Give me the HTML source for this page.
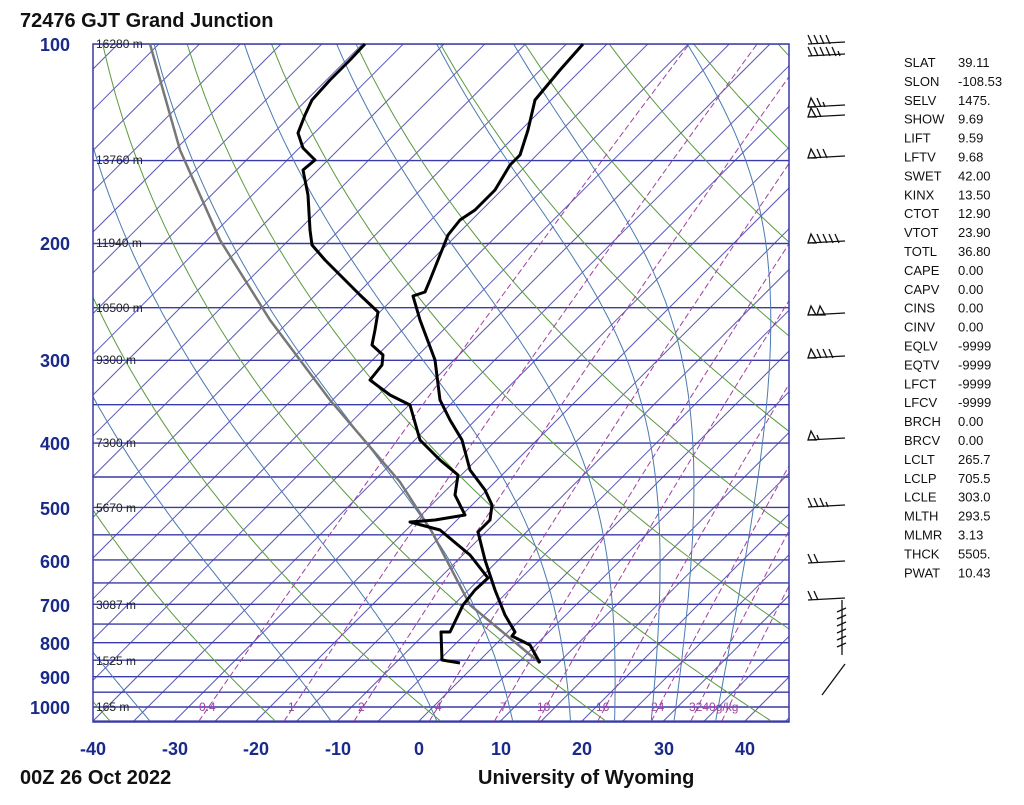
<!DOCTYPE html>
<html><head><meta charset="utf-8">
<style>
body{margin:0;background:#fff;width:1024px;height:805px;overflow:hidden;font-family:"Liberation Sans",sans-serif}
svg{position:absolute;left:0;top:0}
.ax{font:bold 18px "Liberation Sans",sans-serif;fill:#1a2a8a}
.h{font:12px "Liberation Sans",sans-serif;fill:#222}
.w{font:12px "Liberation Sans",sans-serif;fill:#a040a0}
.idx{font:13px "Liberation Sans",sans-serif;fill:#111}
.t{font:bold 20px "Liberation Sans",sans-serif;fill:#111}
</style></head><body>
<svg id="s" width="1024" height="805" xmlns="http://www.w3.org/2000/svg">
<defs><clipPath id="c"><rect x="93" y="44" width="696" height="678"/></clipPath></defs>
<g id="g" clip-path="url(#c)"></g>
<rect x="93" y="44" width="696" height="678" fill="none" stroke="#3a3aa8" stroke-width="1.5"/>
<text class="t" x="20" y="27">72476 GJT Grand Junction</text>
<g class="ax" text-anchor="end">
<text x="70" y="51">100</text><text x="70" y="250">200</text><text x="70" y="367">300</text><text x="70" y="450">400</text><text x="70" y="515">500</text><text x="70" y="568">600</text><text x="70" y="612">700</text><text x="70" y="650">800</text><text x="70" y="684">900</text><text x="70" y="714">1000</text>
</g>
<g class="ax" text-anchor="middle">
<text x="93" y="755">-40</text><text x="175" y="755">-30</text><text x="256" y="755">-20</text><text x="338" y="755">-10</text><text x="419" y="755">0</text><text x="501" y="755">10</text><text x="582" y="755">20</text><text x="664" y="755">30</text><text x="745" y="755">40</text>
</g>
<g class="h">
<text x="96" y="48">16280 m</text><text x="96" y="164">13760 m</text><text x="96" y="247">11940 m</text><text x="96" y="312">10500 m</text><text x="96" y="364">9300 m</text><text x="96" y="447">7300 m</text><text x="96" y="512">5670 m</text><text x="96" y="609">3087 m</text><text x="96" y="665">1525 m</text><text x="96" y="711">165 m</text>
</g>
<g class="w">
<text x="199" y="711">0.4</text><text x="288" y="711">1</text><text x="358" y="711">2</text><text x="435" y="711">4</text><text x="500" y="711">7</text><text x="537" y="711">10</text><text x="596" y="711">16</text><text x="651" y="711">24</text><text x="689" y="711">3240g/kg</text>
</g>
<text class="t" x="20" y="784">00Z 26 Oct 2022</text>
<text class="t" x="478" y="784">University of Wyoming</text>
<g class="idx" id="idx"></g>
<g id="wb" stroke="#111" stroke-width="1.3" fill="none"></g>
<polyline fill="none" stroke="#777" stroke-width="2.5" points="540,663 470,605 432,532 400,482 330,400 270,320 220,240 180,150 150,44"/>
<polyline fill="none" stroke="#000" stroke-width="3" stroke-linejoin="round" points="583,44 560,70 535,100 528,130 520,155 510,165 495,190 475,210 460,220 448,235 440,255 430,280 425,292 413,296 420,320 435,360 440,400 450,420 462,440 470,470 485,490 492,505 490,520 478,532 485,560 495,590 505,615 515,632 512,636 530,645 540,663"/>
<polyline fill="none" stroke="#000" stroke-width="3" stroke-linejoin="round" points="365,44 350,60 330,80 312,100 305,115 298,133 303,148 315,160 303,170 308,195 310,230 312,245 325,260 340,275 360,295 378,312 375,330 372,345 383,355 382,365 370,380 390,395 410,405 420,440 440,460 458,475 455,495 465,515 435,520 410,522 440,530 470,555 488,578 475,590 463,605 450,632 441,632 442,660 460,663"/>
</svg>
<script>
var NS="http://www.w3.org/2000/svg",g=document.getElementById('g');
function Y(p){return 707+288*Math.log(p/1000);}
function X(T,p){var y=Y(p);return 419+8.15*T+(721-y);}
function line(pts,col,w,dash){var e=document.createElementNS(NS,'polyline');e.setAttribute('points',pts.map(function(a){return a[0].toFixed(1)+','+a[1].toFixed(1)}).join(' '));e.setAttribute('fill','none');e.setAttribute('stroke',col);e.setAttribute('stroke-width',w);if(dash)e.setAttribute('stroke-dasharray',dash);g.appendChild(e);}
// isotherms
for(var T=-160;T<=50;T+=5){line([[X(T,1050),Y(1050)],[X(T,100),Y(100)]],'#5a5ab8',1);}
// isobars
for(var p=100;p<=1050;p+=50){line([[93,Y(p)],[789,Y(p)]],'#3a3aa8',1.4);}
// dry adiabats
for(var th=232;th<=560;th+=20){var pts=[];for(var p=1050;p>=100;p-=10){var T=th*Math.pow(p/1000,0.2857)-273.15;pts.push([X(T,p),Y(p)]);}line(pts,'#5a9a40',1);}
// mixing ratio
[0.4,1,2,4,7,10,16,24,32,40].forEach(function(w){var pts=[];for(var p=1050;p>=100;p-=10){var e=w*p/(622+w);var l=Math.log(e/6.112);var Td=243.5*l/(17.67-l);pts.push([X(Td,p),Y(p)]);}line(pts,'#a040a0',1,'6,3');});
// moist adiabats
function ws(T,p){var es=6.112*Math.exp(17.67*T/(T+243.5));return 0.622*es/(p-es);}
[-33,-10.8,2.2,11.5,18.6,24,28.5,31.3,36.4].forEach(function(T0){var T=T0,pts=[];
 for(var p=1050;p>=100;p-=5){pts.push([X(T,p),Y(p)]);var Tk=T+273.15,r=ws(T,p),L=2.5e6,Rd=287,cp=1004;
 var dTdp=(Rd*Tk+L*r)/(p*(cp+L*L*r*0.622/(Rd*Tk*Tk)));T-=dTdp*5;}
 line(pts,'#4a7ab0',1);});
// index
var lab=["SLAT","SLON","SELV","SHOW","LIFT","LFTV","SWET","KINX","CTOT","VTOT","TOTL","CAPE","CAPV","CINS","CINV","EQLV","EQTV","LFCT","LFCV","BRCH","BRCV","LCLT","LCLP","LCLE","MLTH","MLMR","THCK","PWAT"];
var val=["39.11","-108.53","1475.","9.69","9.59","9.68","42.00","13.50","12.90","23.90","36.80","0.00","0.00","0.00","0.00","-9999","-9999","-9999","-9999","0.00","0.00","265.7","705.5","303.0","293.5","3.13","5505.","10.43"];
var ig=document.getElementById('idx');
for(var i=0;i<lab.length;i++){var y=67+i*18.9;
 var a=document.createElementNS(NS,'text');a.setAttribute('x',904);a.setAttribute('y',y);a.textContent=lab[i];ig.appendChild(a);
 var b=document.createElementNS(NS,'text');b.setAttribute('x',958);b.setAttribute('y',y);b.textContent=val[i];ig.appendChild(b);}
// wind barbs
var wb=document.getElementById('wb');
function P(d){var e=document.createElementNS(NS,'path');e.setAttribute('d',d);wb.appendChild(e);}
function barb(y,fl,full,half){P('M808 '+y+' L845 '+(y-2));var x=808;
 for(var i=0;i<fl;i++){P('M'+x+' '+y+' L'+(x+3)+' '+(y-9)+' L'+(x+8)+' '+y+' Z');x+=9;}
 for(var i=0;i<full;i++){P('M'+(x+4)+' '+y+' L'+x+' '+(y-9));x+=6;}
 for(var i=0;i<half;i++){P('M'+(x+2)+' '+y+' L'+x+' '+(y-5));}}
barb(44,0,4,0);barb(56,0,5,1);barb(107,1,1,1);barb(117,1,1,0);barb(158,1,2,0);barb(243,1,4,0);barb(315,2,0,0);barb(358,1,3,0);barb(440,1,0,1);barb(507,0,3,1);barb(563,0,2,0);barb(600,0,2,0);
P('M842 600 L842 655');for(var k=0;k<6;k++)P('M837 '+(612+k*7)+' L846 '+(608+k*7));
P('M822 695 L845 664');
</script>
</body></html>
